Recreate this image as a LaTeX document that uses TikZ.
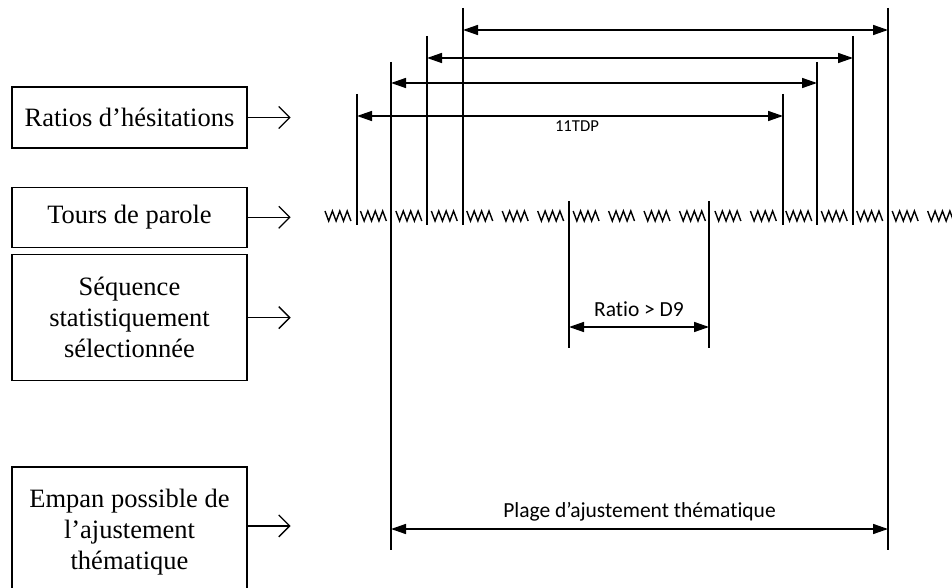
\documentclass[tikz,border=0pt]{standalone}
\usepackage{fontspec}
\setmainfont{Liberation Serif}
\newfontfamily\labelfont[Ligatures=NoCommon]{Carlito}
\usetikzlibrary{arrows.meta, positioning}
\tikzset{
    % Boxes
    labelbox/.style={rectangle, draw, line width=1.3pt, minimum width=235pt,
                     align=center, font=\fontsize{26.5}{31}\selectfont},
    % Lines
    feed/.style={-{Straight Barb[length=11pt, width=22pt]}, line width=1.3pt},
    tick/.style={line width=1.5pt},
    span/.style={{Triangle[length=15pt, width=10pt]}-{Triangle[length=15pt, width=10pt]}, line width=1.5pt},
    wave/.style={line width=1.4pt, line join=miter},
    % Labels
    dimlbl/.style={font=\labelfont\fontsize{21.5}{24}\selectfont, inner sep=2pt},
    smalllbl/.style={font=\labelfont\fontsize{16.7}{19}\selectfont, inner sep=2pt}
}

\begin{document}
\begin{tikzpicture}[x=1pt, y=-1pt]
\useasboundingbox (0,0) rectangle (952,588);
\clip (0,0) rectangle (952,588);

% Boxes on the left
\node[labelbox, minimum height=61pt] (ratios) at (129.5,117.5) {Ratios d’hésitations};
\node[labelbox, minimum height=60pt, below=38pt of ratios] (tours) {Tours de parole};
\node[labelbox, minimum height=126pt, below=6pt of tours] (sequence) {Séquence\\statistiquement\\sélectionnée};
\node[labelbox, minimum height=130pt, below=85pt of sequence] (empan) {Empan possible de\\l’ajustement\\thématique};

\foreach \b in {ratios, tours, sequence}
    \draw[feed] (\b.east) -- ++(43,0);
\draw[feed] ([yshift=6pt]empan.east) -- ++(43,0);

% Speaking turns
\foreach \k in {0,...,17}
    \draw[wave] ({325+35.45*\k},211) -- ++(3.7,10) -- ++(3.7,-10) -- ++(3.7,10)
        -- ++(3.7,-10) -- ++(3.7,10) -- ++(3.7,-10) -- ++(3.7,10);

% Hesitation ratio windows
\foreach \l/\r/\t/\a/\bl/\br [count=\i] in {357/783/94/116/225/225, 391/817/62/83/550/225,
                                             427/853/36/58/225/225, 463/888/8/30/225/550} {
    \coordinate (L\i) at (\l,\a);
    \coordinate (R\i) at (\r,\a);
    \draw[tick] (\l,\t) -- (\l,\bl);
    \draw[tick] (\r,\t) -- (\r,\br);
    \draw[span] (L\i) -- (R\i);
}
\path (L1) -- node[smalllbl, below=3pt, xshift=7pt] (tdp) {11TDP} (R1);

% Selected sequence
\coordinate (d9L) at (569,327);
\coordinate (d9R) at (709,327);
\draw[tick] (569,201) -- (569,348);
\draw[tick] (709,201) -- (709,348);
\draw[span] (d9L) -- node[dimlbl, above=8pt] (ratio) {Ratio > D9} (d9R);

% Thematic adjustment span
\coordinate (plL) at (391,529);
\coordinate (plR) at (888,529);
\draw[span] (plL) -- node[dimlbl, above=5pt] (plage) {Plage d’ajustement thématique} (plR);

\end{tikzpicture}
\end{document}
